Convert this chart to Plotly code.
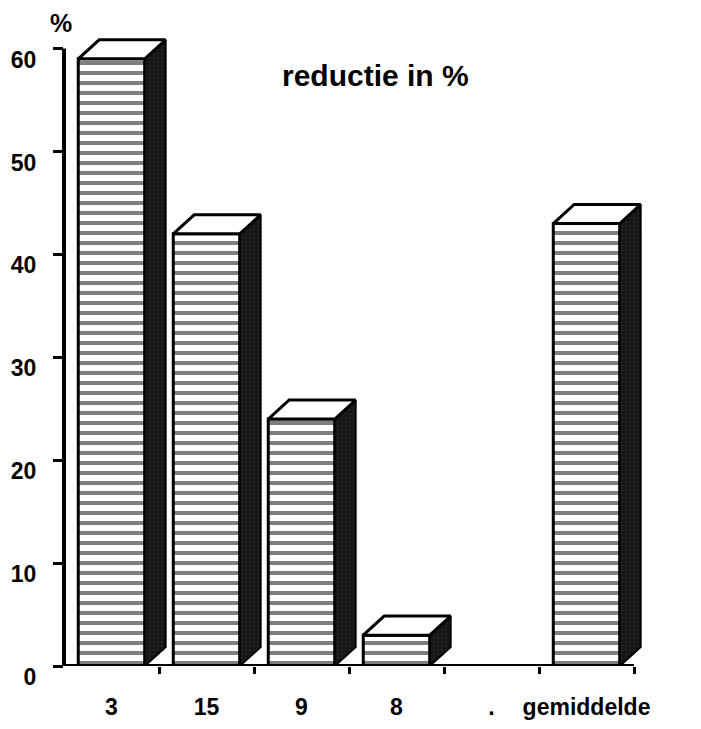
import plotly.graph_objects as go

# Reduction per group, plus the overall average
categories = ["3", "15", "9", "8", ".", "gemiddelde"]
reduction = [59, 42, 24, 3, None, 43]
y_ticks = [0, 10, 20, 30, 40, 50, 60]

# Styling constants for the pseudo-3D blocks
BAR_W = 0.7      # width of the front face (category units)
DEPTH_X = 0.22   # horizontal depth of the block
DEPTH_Y = 1.85   # vertical depth of the block
FONT = "Liberation Sans, Arial, Helvetica, sans-serif"
Y_TOP = 62

xs = list(range(len(categories)))

fig = go.Figure()

# Front faces: horizontally hatched bars
fig.add_trace(go.Bar(
    x=xs, y=reduction, width=BAR_W,
    marker=dict(
        color="white",
        line=dict(color="black", width=3),
        pattern=dict(shape="-", size=10, solidity=0.4,
                     fgcolor="black", bgcolor="white"),
    ),
    hoverinfo="skip",
))

# Side and top faces of each block
for x, v in zip(xs, reduction):
    if v is None:
        continue
    x0 = x - BAR_W / 2
    x1 = x + BAR_W / 2
    fig.add_trace(go.Scatter(
        x=[x1, x1, x1 + DEPTH_X, x1 + DEPTH_X, x1],
        y=[0, v, v + DEPTH_Y, DEPTH_Y, 0],
        mode="lines", fill="toself",
        fillcolor="#1b1b1b",
        fillpattern=dict(shape=".", size=4, solidity=0.12,
                         fgcolor="#5a5a5a", bgcolor="#161616"),
        line=dict(color="black", width=2),
        hoverinfo="skip",
    ))
    fig.add_trace(go.Scatter(
        x=[x0, x0 + DEPTH_X, x1 + DEPTH_X, x1, x0],
        y=[v, v + DEPTH_Y, v + DEPTH_Y, v, v],
        mode="lines", fill="toself", fillcolor="white",
        line=dict(color="black", width=3),
        hoverinfo="skip",
    ))

tick_font = dict(size=23, family=FONT, color="black", weight="bold")

fig.update_layout(
    width=701, height=729, autosize=False,
    margin=dict(l=64, r=38, t=28, b=63),
    paper_bgcolor="white", plot_bgcolor="white",
    showlegend=False,
    font=dict(family=FONT, color="black", size=23),
    xaxis=dict(
        range=[-0.5, 5.805], automargin=False,
        tickmode="array", tickvals=xs, ticktext=categories,
        ticks="", showgrid=False, zeroline=False, showline=False,
        tickfont=tick_font,
        ticklabelstandoff=25,
        minor=dict(tickmode="array",
                   tickvals=[i + 0.5 for i in xs],
                   ticks="outside", ticklen=7, tickwidth=3,
                   tickcolor="black", showgrid=False),
    ),
    yaxis=dict(
        range=[0, Y_TOP], automargin=False,
        tickmode="array", tickvals=y_ticks,
        ticks="outside", ticklen=10, tickwidth=3, tickcolor="black",
        showgrid=False, zeroline=False, showline=False,
        tickfont=tick_font,
        ticklabelshift=11, ticklabelstandoff=12,
    ),
    shapes=[
        # axis lines: y from 0 to 60, x across the six categories
        dict(type="line", xref="paper", yref="y", x0=0, x1=0, y0=0, y1=60,
             line=dict(color="black", width=4)),
        dict(type="line", xref="x", yref="y", x0=-0.5, x1=5.5, y0=0, y1=0,
             line=dict(color="black", width=4)),
    ],
    annotations=[
        dict(text="reductie in %", xref="x", yref="y", x=2.78, y=57.4,
             showarrow=False,
             font=dict(size=30, family=FONT, color="black", weight="bold")),
        dict(text="%", xref="paper", yref="paper", x=0, y=62.5 / Y_TOP,
             xanchor="center", yanchor="middle", xshift=-3,
             showarrow=False,
             font=dict(size=25, family=FONT, color="black", weight="bold")),
    ],
)

fig.write_html("out.html")
